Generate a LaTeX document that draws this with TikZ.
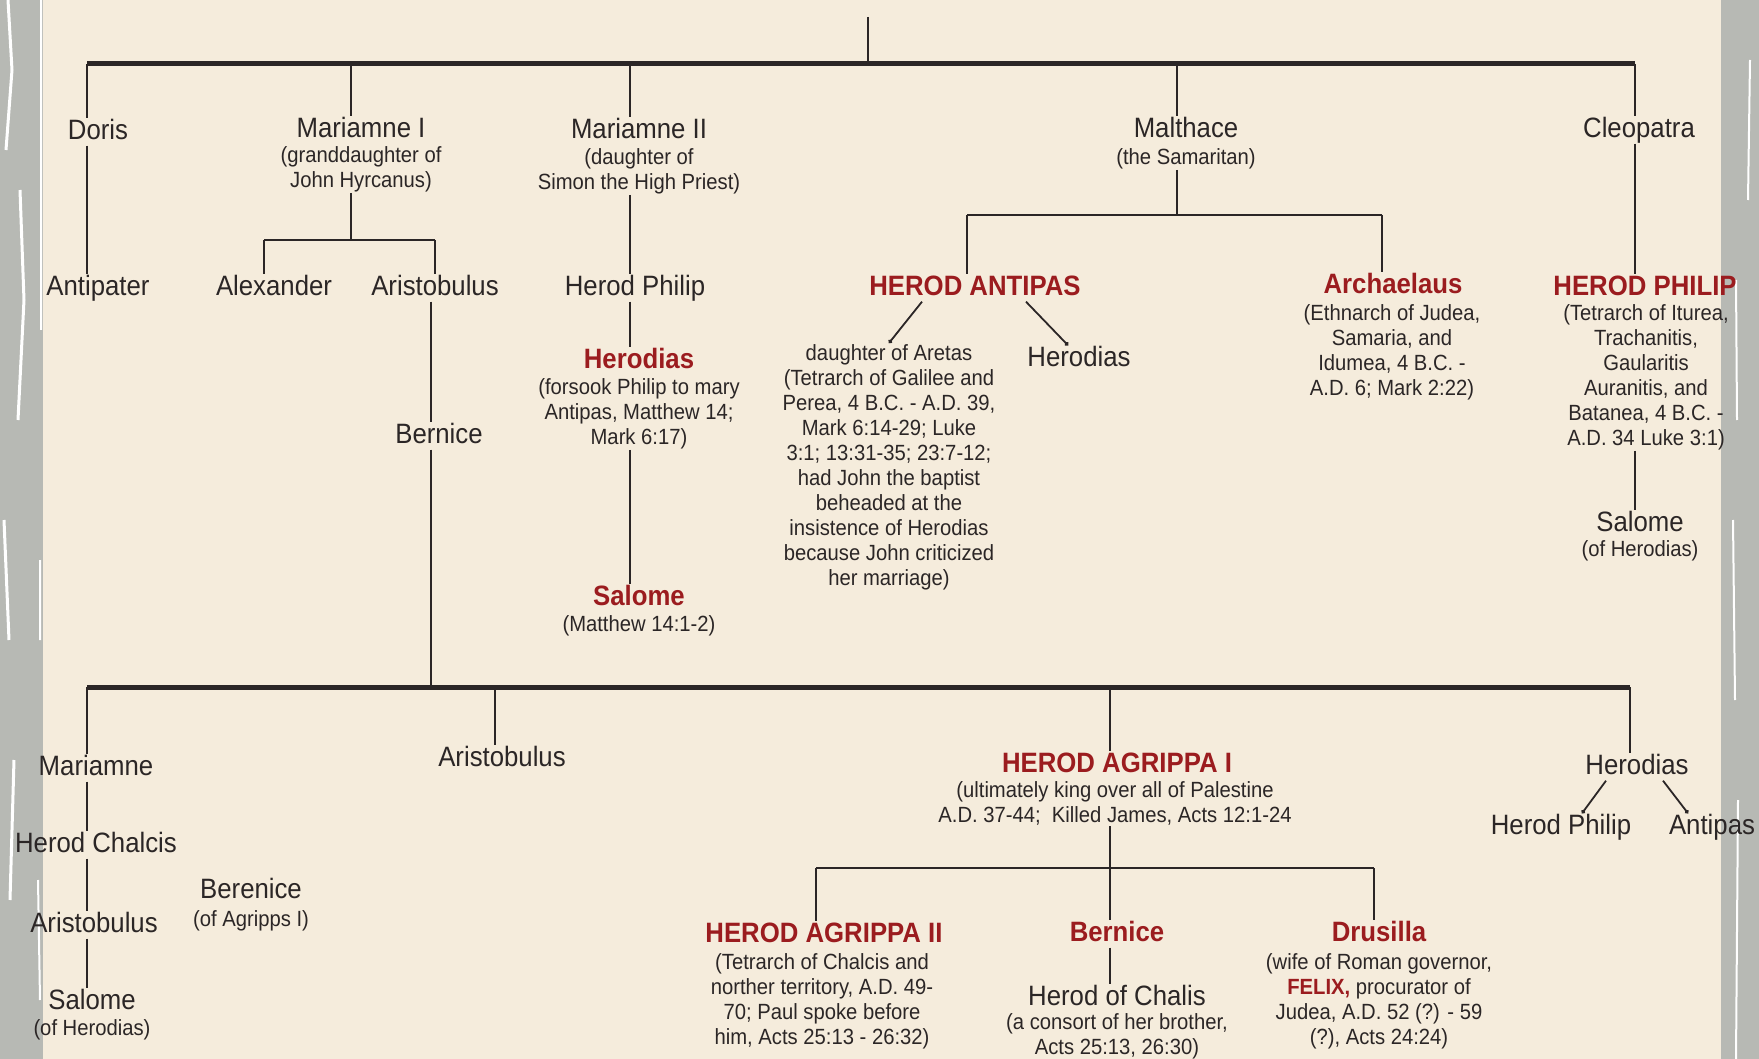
\documentclass[tikz,border=0pt]{standalone}
\usepackage{fontspec}
\setmainfont{Liberation Sans}[FakeStretch=0.92]
\usetikzlibrary{arrows.meta}
\definecolor{paper}{HTML}{F5ECDC}
\definecolor{edge}{HTML}{B7B9B4}
\definecolor{ink}{HTML}{2B2626}
\definecolor{herodred}{HTML}{9B1C1F}
\begin{document}
\begin{tikzpicture}[x=1pt, y=-1pt]
		\tikzset{pers/.style={font=\fontsize{28}{30}\selectfont, text=ink, inner sep=1pt, text height=20pt, text depth=5pt},
			king/.style={pers, font=\fontsize{28}{30}\selectfont\bfseries, text=herodred},
			note/.style={font=\fontsize{22}{25}\selectfont, text=ink, align=center, inner sep=1pt, anchor=north},
			link/.style={draw=ink, line width=1.8pt},
			fork/.style={link, -{Circle[length=4pt]}},
			thickbar/.style={draw=ink, line width=5pt}};

		\useasboundingbox (0,0) rectangle (1759,1059);
		\fill[paper] (0,0) rectangle (1759,1059);
		\fill[edge] (0,0) rectangle (43,1059);
		\fill[edge] (1721,0) rectangle (1759,1059);
		\draw[white, line width=2pt] (41,0) -- (41,330) (40,560) -- (40,640) (38,880) -- (40,1000);
		\draw[white, line width=3pt] (8,0) -- (12,70) -- (6,150) (20,190) -- (24,300) -- (18,420) (4,520) -- (9,640) (14,760) -- (10,900);
		\draw[white, line width=2pt] (1736,280) -- (1737,420) (1733,520) -- (1735,700) (1738,800) -- (1736,1059) (1750,60) -- (1748,200);

		\node[pers] (doris) at (98,132) {Doris};
		\node[pers] (mar1) at (361,130) {Mariamne I};
		\node[note] (mar1n) at (361,145) {(granddaughter of\\John Hyrcanus)};
		\node[pers] (mar2) at (639,131) {Mariamne II};
		\node[note] (mar2n) at (639,147) {(daughter of\\Simon the High Priest)};
		\node[pers] (malt) at (1186,130) {Malthace};
		\node[note] (maltn) at (1186,147) {(the Samaritan)};
		\node[pers] (cleo) at (1639,130) {Cleopatra};

		\node[pers] (antipater) at (98,288) {Antipater};
		\node[pers] (alex) at (274,288) {Alexander};
		\node[pers] (aristo) at (435,288) {Aristobulus};
		\node[pers] (philip) at (635,288) {Herod Philip};
		\node[king] (antipas) at (975,288) {HEROD ANTIPAS};
		\node[king] (archel) at (1393,286) {Archaelaus};
		\node[note] (archeln) at (1392,303) {(Ethnarch of Judea,\\Samaria, and\\Idumea, 4 B.C. -\\A.D. 6; Mark 2:22)};
		\node[king] (philip2) at (1645,288) {HEROD PHILIP};
		\node[note] (philip2n) at (1646,303) {(Tetrarch of Iturea,\\Trachanitis,\\Gaularitis\\Auranitis, and\\Batanea, 4 B.C. -\\A.D. 34 Luke 3:1)};

		\node[pers] (bernice) at (439,436) {Bernice};
		\node[king] (herodias) at (639,361) {Herodias};
		\node[note] (herodiasn) at (639,377) {(forsook Philip to mary\\Antipas, Matthew 14;\\Mark 6:17)};
		\node[king] (salome) at (639,598) {Salome};
		\node[note] (salomen) at (639,614) {(Matthew 14:1-2)};
		\node[note] (aretas) at (889,343) {daughter of Aretas\\(Tetrarch of Galilee and\\Perea, 4 B.C. - A.D. 39,\\Mark 6:14-29; Luke\\3:1; 13:31-35; 23:7-12;\\had John the baptist\\beheaded at the\\insistence of Herodias\\because John criticized\\her marriage)};
		\node[pers] (herodias2) at (1079,359) {Herodias};
		\node[pers] (salome2) at (1640,524) {Salome};
		\node[note] (salome2n) at (1640,539) {(of Herodias)};

		\node[pers] (marb) at (96,768) {Mariamne};
		\node[pers] (chalcis) at (96,845) {Herod Chalcis};
		\node[pers] (aristo3) at (94,925) {Aristobulus};
		\node[pers] (salome3) at (92,1002) {Salome};
		\node[note] (salome3n) at (92,1018) {(of Herodias)};
		\node[pers] (berenice) at (251,891) {Berenice};
		\node[note] (berenicen) at (251,909) {(of Agripps I)};
		\node[pers] (aristo2) at (502,759) {Aristobulus};

		\node[king] (agr1) at (1117,765) {HEROD AGRIPPA I};
		\node[note] (agr1n) at (1115,780) {(ultimately king over all of Palestine\\A.D. 37-44;\ \ Killed James, Acts 12:1-24};
		\node[king] (agr2) at (824,935) {HEROD AGRIPPA II};
		\node[note] (agr2n) at (822,952) {(Tetrarch of Chalcis and\\norther territory, A.D. 49-\\70; Paul spoke before\\him, Acts 25:13 - 26:32)};
		\node[king] (bernice2) at (1117,934) {Bernice};
		\node[pers] (chalis) at (1117,998) {Herod of Chalis};
		\node[note] (chalisn) at (1117,1012) {(a consort of her brother,\\Acts 25:13, 26:30)};
		\node[king] (drusilla) at (1379,934) {Drusilla};
		\node[note] (drusillan) at (1379,952) {(wife of Roman governor,\\{\color{herodred}\bfseries FELIX,} procurator of\\Judea, A.D. 52 (?) - 59\\(?), Acts 24:24)};

		\node[pers] (herodias3) at (1637,767) {Herodias};
		\node[pers] (philip3) at (1561,827) {Herod Philip};
		\node[pers] (antipas2) at (1712,827) {Antipas};

		\coordinate (herod) at (868,17);
		\coordinate (dDoris) at (87,64);
		\coordinate (dMarI) at (351,64);
		\coordinate (dMarII) at (630,64);
		\coordinate (dMalt) at (1177,64);
		\coordinate (dCleo) at (1635,64);
		\coordinate (mA) at (264,240);
		\coordinate (mB) at (435,240);
		\coordinate (aL) at (967,215);
		\coordinate (aR) at (1382,215);
		\coordinate (sB) at (431,687);
		\coordinate (eMar) at (87,687);
		\coordinate (eAri) at (495,687);
		\coordinate (eAgr) at (1110,687);
		\coordinate (eHer) at (1630,687);
		\coordinate (gL) at (816,868);
		\coordinate (gR) at (1374,868);

		\draw[thickbar] (dDoris) -- (dCleo);
		\draw[link] (herod) -- (herod |- dDoris);

		\draw[link] (dDoris) -- (dDoris |- doris.north);
		\draw[link] (dDoris |- doris.south) -- (dDoris |- antipater.north);

		\draw[link] (dMarI) -- (dMarI |- mar1.north);
		\draw[link] (dMarI |- mar1n.south) -- (dMarI |- mA);
		\draw[link] (mA) -- (mB);
		\draw[link] (mA) -- (mA |- alex.north);
		\draw[link] (mB) -- (mB |- aristo.north);
		\draw[link] (sB |- aristo.south) -- (sB |- bernice.north);
		\draw[link] (sB |- bernice.south) -- (sB);

		\draw[link] (dMarII) -- (dMarII |- mar2.north);
		\draw[link] (dMarII |- mar2n.south) -- (dMarII |- philip.north);
		\draw[link] (dMarII |- philip.south) -- (dMarII |- herodias.north);
		\draw[link] (dMarII |- herodiasn.south) -- (dMarII |- salome.north);

		\draw[link] (dMalt) -- (dMalt |- malt.north);
		\draw[link] (dMalt |- maltn.south) -- (dMalt |- aL);
		\draw[link] (aL) -- (aR);
		\draw[link] (aL) -- (aL |- antipas.north);
		\draw[link] (aR) -- (aR |- archel.north);
		\draw[fork] ([xshift=-53pt]antipas.south) -- (aretas.north);
		\draw[fork] ([xshift=51pt]antipas.south) -- ([xshift=-11pt]herodias2.north);

		\draw[link] (dCleo) -- (dCleo |- cleo.north);
		\draw[link] (dCleo |- cleo.south) -- (dCleo |- philip2.north);
		\draw[link] (dCleo |- philip2n.south) -- (dCleo |- salome2.north);

		\draw[thickbar] (eMar) -- (eHer);
		\draw[link] (eMar) -- (eMar |- marb.north);
		\draw[link] (eMar |- marb.south) -- (eMar |- chalcis.north);
		\draw[link] (eMar |- chalcis.south) -- (eMar |- aristo3.north);
		\draw[link] (eMar |- aristo3.south) -- (eMar |- salome3.north);
		\draw[link] (eAri) -- (eAri |- aristo2.north);

		\draw[link] (eAgr) -- (eAgr |- agr1.north);
		\draw[link] (eAgr |- agr1n.south) -- (eAgr |- bernice2.north);
		\draw[link] (gL) -- (gR);
		\draw[link] (gL) -- (gL |- agr2.north);
		\draw[link] (gR) -- (gR |- drusilla.north);
		\draw[link] (eAgr |- bernice2.south) -- (eAgr |- chalis.north);

		\draw[link] (eHer) -- (eHer |- herodias3.north);
		\draw[fork] ([xshift=-31pt]herodias3.south) -- ([xshift=21pt]philip3.north);
		\draw[fork] ([xshift=26pt]herodias3.south) -- ([xshift=-24pt]antipas2.north);
\end{tikzpicture}
\end{document}
